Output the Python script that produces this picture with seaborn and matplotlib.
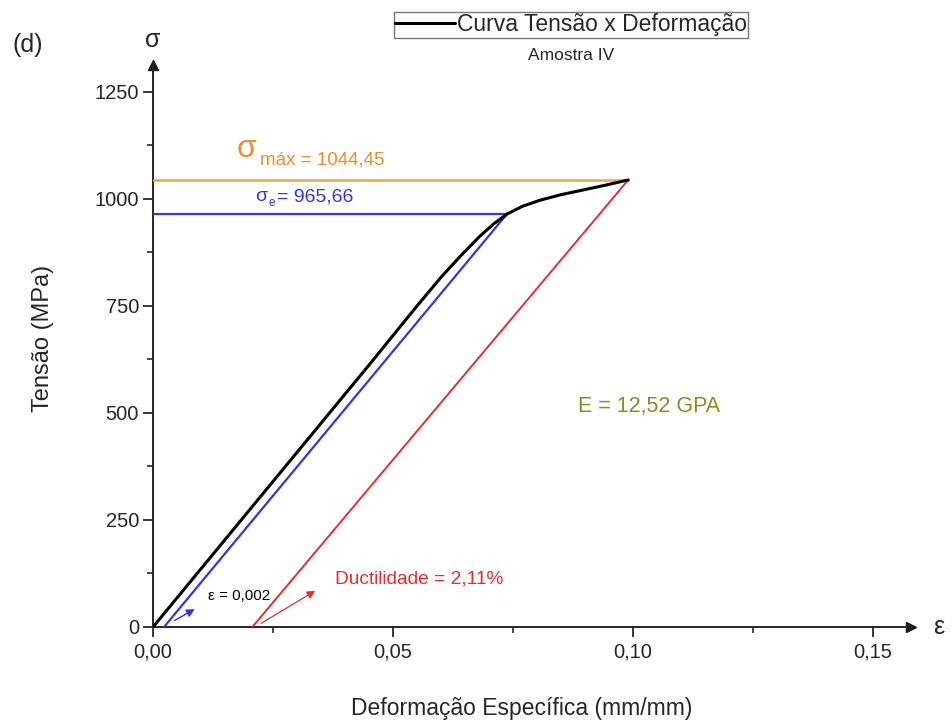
import numpy as np
import pandas as pd
import matplotlib
matplotlib.use("Agg")
import matplotlib.pyplot as plt
from matplotlib.ticker import FixedLocator, MultipleLocator, FuncFormatter
import seaborn as sns

# ---- data ----
curve_strain = [0.0, 0.005, 0.015, 0.030, 0.045, 0.055, 0.060, 0.0640, 0.0680, 0.0710, 0.0738, 0.0770, 0.0806, 0.0850, 0.0900, 0.0946, 0.0990]
curve_stress = [0.0, 68, 204, 408, 612, 750, 817, 866, 912, 942, 965, 983, 997, 1010, 1022, 1033, 1044.45]

offset_strain = [0.0023, 0.0738]          # blue 0.2% offset line
offset_stress = [0.0, 965.66]

modulus_strain = [0.0207, 0.0990]          # red line
modulus_stress = [0.0, 1044.45]

sigma_max = 1044.45
sigma_e = 965.66
x_ticks = [0.00, 0.05, 0.10, 0.15]
x_tick_labels = ["0,00", "0,05", "0,10", "0,15"]
y_ticks = [0, 250, 500, 750, 1000, 1250]

sns.set_theme(style="ticks")
plt.rcParams["font.family"] = ["Liberation Sans", "DejaVu Sans"]

fig = plt.figure(figsize=(9.52, 7.27), dpi=100)
ax = fig.add_axes([153/952, 1-627/727, (911.4-153)/952, (627-65)/727])

df_curve = pd.DataFrame({"strain": curve_strain, "stress": curve_stress})
sns.lineplot(data=df_curve, x="strain", y="stress", sort=False, color="black",
             lw=2.2, ax=ax, label="Curva Tensão x Deformação", zorder=5)

df_off = pd.DataFrame({"strain": offset_strain, "stress": offset_stress})
sns.lineplot(data=df_off, x="strain", y="stress", sort=False, color="#3535e0",
             lw=1.6, ax=ax, zorder=4)
df_mod = pd.DataFrame({"strain": modulus_strain, "stress": modulus_stress})
sns.lineplot(data=df_mod, x="strain", y="stress", sort=False, color="#ee2b2b",
             lw=1.4, ax=ax, zorder=4)
df_hmax = pd.DataFrame({"strain": [0.0, curve_strain[-1]], "stress": [sigma_max, sigma_max]})
sns.lineplot(data=df_hmax, x="strain", y="stress", sort=False, color="#f0a448",
             lw=1.8, ax=ax, zorder=3)
df_he = pd.DataFrame({"strain": [0.0, offset_strain[-1]], "stress": [sigma_e, sigma_e]})
sns.lineplot(data=df_he, x="strain", y="stress", sort=False, color="#3535e0",
             lw=1.6, ax=ax, zorder=3)

ax.set_xlim(0, 0.158)
ax.set_ylim(0, 1313)
ax.xaxis.set_major_locator(FixedLocator(x_ticks))
ax.xaxis.set_major_formatter(FuncFormatter(
    lambda v, p: x_tick_labels[int(round(v / 0.05))] if 0 <= int(round(v / 0.05)) < len(x_tick_labels) else ""))
ax.xaxis.set_minor_locator(MultipleLocator(0.025))
ax.yaxis.set_major_locator(FixedLocator(y_ticks))
ax.yaxis.set_minor_locator(MultipleLocator(125))
ax.tick_params(which="major", direction="out", length=7, width=1.3, labelsize=14.5, pad=3)
ax.tick_params(axis="x", which="major", pad=4)
ax.tick_params(which="minor", direction="out", length=4, width=1.2)
for s in ["top", "right"]:
    ax.spines[s].set_visible(False)
for s in ["left", "bottom"]:
    ax.spines[s].set_linewidth(1.4)

# axis arrows
ax.plot(1, 0, ">k", ms=7, transform=ax.transAxes, clip_on=False)
ax.plot(0, 1, "^k", ms=7, transform=ax.transAxes, clip_on=False)
ax.text(1.036, 0, "ε", transform=ax.transAxes, fontsize=18, va="center", ha="center")
ax.text(0, 1.045, "σ", transform=ax.transAxes, fontsize=18, va="center", ha="center")

ax.set_xlabel("Deformação Específica (mm/mm)", fontsize=16.5)
ax.set_ylabel("Tensão (MPa)", fontsize=17)
ax.xaxis.set_label_coords((522 - 153) / 758.4, -(697 - 627) / 562)
ax.yaxis.set_label_coords(-(99 - 0) / 758.4, (627 - 338) / 562)

fig.text(12/952, 1-45/727, "(d)", fontsize=18, va="center", ha="left")

# legend
leg = ax.legend(loc="center", bbox_to_anchor=(571/952, 1-25/727), bbox_transform=fig.transFigure,
                frameon=True, fontsize=16.5, handlelength=2.6, handletextpad=0.1,
                borderpad=0.05, borderaxespad=0, fancybox=False, edgecolor="#555555")
leg.get_frame().set_linewidth(1.0)
fig.text(571/952, 1-55/727, "Amostra IV", fontsize=12.5, ha="center", va="center")

# annotations
ax.text(0.0175, 1098, "σ", fontsize=23, color="#f08c30", ha="left", va="baseline")
ax.text(0.0222, 1112, "máx = 1044,45", fontsize=13.5, color="#f08c30", ha="left", va="top")
ax.text(0.0213, 995, "σ", fontsize=14, color="#3535e0", ha="left", va="baseline")
ax.text(0.0241, 984, "e", fontsize=8.5, color="#3535e0", ha="left", va="baseline")
ax.text(0.0258, 995, "= 965,66", fontsize=14, color="#3535e0", ha="left", va="baseline")
ax.text(0.0885, 514, "E = 12,52 GPA", fontsize=15.5, color="#8c8c22", ha="left", va="center")
ax.text(0.0380, 113, "Ductilidade = 2,11%", fontsize=13.8, color="#ee2b2b", ha="left", va="center")
ax.text(0.0114, 72, "ε = 0,002", fontsize=11, color="black", ha="left", va="center")

ax.annotate("", xy=(0.0092, 45), xytext=(0.0040, 12),
            arrowprops=dict(arrowstyle="-|>", color="#3535e0", lw=1.0, mutation_scale=12))
ax.annotate("", xy=(0.0343, 88), xytext=(0.0220, 5),
            arrowprops=dict(arrowstyle="-|>", color="#ee2b2b", lw=0.9, mutation_scale=12))

fig.savefig("out.png", dpi=100, facecolor="white")
